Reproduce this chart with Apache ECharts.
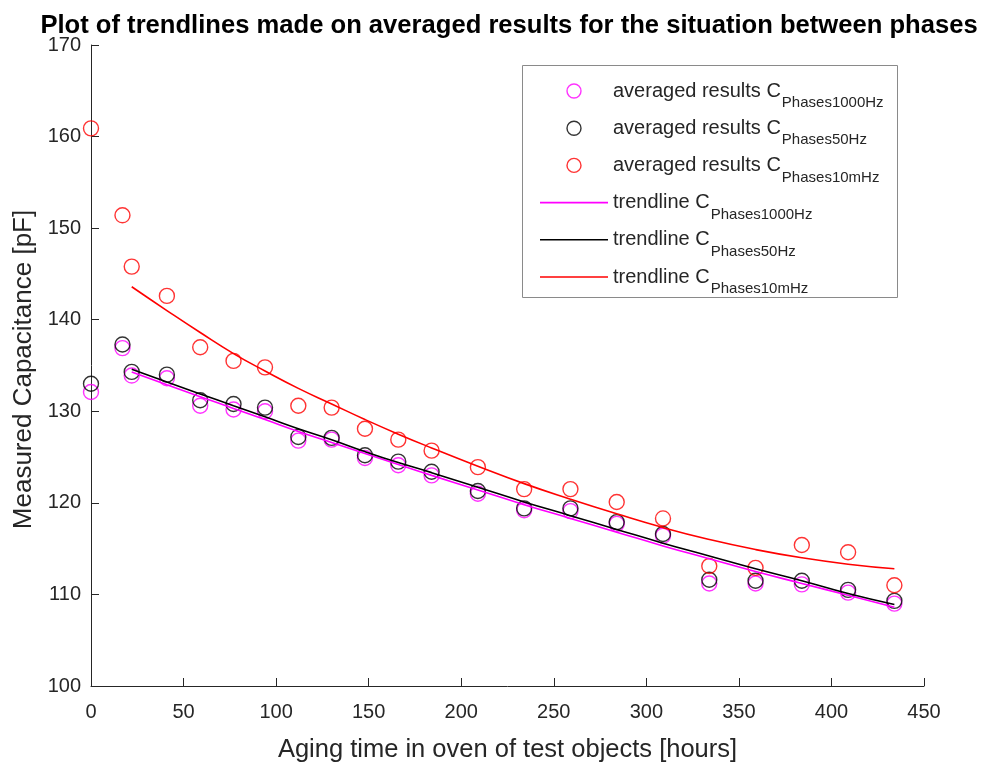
<!DOCTYPE html>
<html>
<head>
<meta charset="utf-8">
<script src="https://cdn.jsdelivr.net/npm/echarts@6/dist/echarts.min.js"></script>
<style>
  html, body { margin: 0; padding: 0; background: #fff; }
  #chart { width: 985px; height: 763px; }
</style>
</head>
<body>
<div id="chart"></div>
<script>
// Aging time of the test objects [hours]
const hours = [0, 17, 22, 41, 59, 77, 94, 112, 130, 148, 166, 184, 209, 234, 259, 284, 309, 334, 359, 384, 409, 434];

// Averaged capacitance measured between phases [pF]
const c1000Hz = [132.1, 136.9, 133.9, 133.6, 130.6, 130.2, 130.0, 126.8, 126.9, 124.9, 124.1, 123.0, 121.0, 119.2, 119.1, 117.7, 116.4, 111.2, 111.2, 111.1, 110.2, 109.0];
const c50Hz   = [133.0, 137.3, 134.3, 134.0, 131.2, 130.8, 130.4, 127.2, 127.1, 125.2, 124.5, 123.4, 121.3, 119.4, 119.4, 117.9, 116.6, 111.6, 111.5, 111.5, 110.5, 109.3];
const c10mHz  = [160.9, 151.4, 145.8, 142.6, 137.0, 135.5, 134.8, 130.6, 130.4, 128.1, 126.9, 125.7, 123.9, 121.5, 121.5, 120.1, 118.3, 113.1, 112.9, 115.4, 114.6, 111.0];

// Trendlines, starting at the third measurement (22 h)
const trendHours = hours.slice(2);
const trend1000Hz = [134.3, 132.9, 131.6, 130.3, 129.1, 127.8, 126.6, 125.4, 124.2, 123.0, 121.4, 119.8, 118.3, 116.8, 115.3, 113.9, 112.5, 111.2, 109.9, 108.6];
const trend50Hz   = [134.6, 133.2, 131.9, 130.6, 129.4, 128.1, 126.9, 125.6, 124.4, 123.3, 121.7, 120.1, 118.6, 117.1, 115.6, 114.2, 112.8, 111.5, 110.1, 108.9];
const trend10mHz  = [143.6, 141.0, 138.6, 136.3, 134.4, 132.5, 130.8, 129.1, 127.5, 126.0, 124.0, 122.1, 120.4, 118.8, 117.3, 116.0, 114.9, 114.0, 113.3, 112.8];

const xTicks = [0, 50, 100, 150, 200, 250, 300, 350, 400, 450];
const yTicks = [100, 110, 120, 130, 140, 150, 160, 170];

const colMagenta = '#ff00ff';
const colBlack = '#000000';
const colRed = '#ff0000';
const textCol = '#262626';
const fontFamily = '"Liberation Sans", Arial, Helvetica, sans-serif';

const pairs = (xs, ys) => xs.map((x, i) => [x, ys[i]]);

const names = {
  s1000: 'averaged results C_1000',
  s50: 'averaged results C_50',
  s10m: 'averaged results C_10m',
  t1000: 'trendline C_1000',
  t50: 'trendline C_50',
  t10m: 'trendline C_10m'
};
const subText = { '1000': 'Phases1000Hz', '50': 'Phases50Hz', '10m': 'Phases10mHz' };

function scatter(name, color, data) {
  return {
    name, type: 'scatter', data,
    symbol: 'circle', symbolSize: 15,
    itemStyle: { color: 'rgba(0,0,0,0)', borderColor: color, borderWidth: 1.4 },
    emphasis: { disabled: true },
    z: 2
  };
}
function trend(name, color, data) {
  return {
    name, type: 'line', data, smooth: true,
    showSymbol: false, symbol: 'none',
    lineStyle: { color, width: 1.6 },
    itemStyle: { color },
    emphasis: { disabled: true },
    z: 3
  };
}

// thin horizontal bar used as the legend sample of a trendline
const lineIcon = 'path://M0,0H68V1.6H0Z';
const ringStyle = c => ({ color: 'rgba(0,0,0,0)', borderColor: c, borderWidth: 1.4 });

const chart = echarts.init(document.getElementById('chart'), null, { renderer: 'canvas' });

const option = {
  animation: false,
  backgroundColor: '#ffffff',
  textStyle: { fontFamily },
  title: {
    text: 'Plot of trendlines made on averaged results for the situation between phases',
    left: 504, top: 8, textAlign: 'center',
    textStyle: { fontFamily, fontSize: 25.6, fontWeight: 'bold', color: '#000' }
  },
  grid: { left: 91, right: 61, top: 45, bottom: 77, containLabel: false, outerBoundsMode: 'none' },
  xAxis: {
    type: 'value', min: 0, max: 450, interval: 50,
    name: 'Aging time in oven of test objects [hours]',
    nameLocation: 'middle', nameGap: 51,
    nameTextStyle: { fontFamily, fontSize: 25.5, color: textCol },
    axisLine: { onZero: false, lineStyle: { color: textCol, width: 1 } },
    axisTick: { inside: true, length: 8, lineStyle: { color: textCol } },
    axisLabel: {
      fontFamily, fontSize: 20, color: textCol, margin: 16,
      formatter: v => (xTicks.includes(v) ? String(v) : '')
    },
    splitLine: { show: false }
  },
  yAxis: {
    type: 'value', min: 100, max: 170, interval: 10,
    name: 'Measured Capacitance [pF]',
    nameLocation: 'middle', nameGap: 51, nameRotate: 90,
    nameTextStyle: { fontFamily, fontSize: 26, color: textCol, padding: [0, 8, 0, 0] },
    axisLine: { show: true, onZero: false, lineStyle: { color: textCol, width: 1 } },
    axisTick: { show: true, inside: true, length: 8, lineStyle: { color: textCol } },
    axisLabel: {
      fontFamily, fontSize: 20, color: textCol, margin: 10,
      formatter: v => (yTicks.includes(v) ? String(v) : '')
    },
    splitLine: { show: false }
  },
  // legend frame
  graphic: [{
    type: 'rect', z: 1,
    shape: { x: 522.5, y: 65.5, width: 375, height: 232 },
    style: { fill: '#ffffff', stroke: '#8a8a8a', lineWidth: 1 }
  }],
  legend: {
    orient: 'vertical',
    left: 522, top: 81,
    padding: [0, 6, 0, 18],
    itemWidth: 68, itemHeight: 14, itemGap: 3.2,
    borderWidth: 0,
    selectedMode: false,
    z: 5,
    data: [
      { name: names.s1000, icon: 'circle', itemStyle: ringStyle(colMagenta) },
      { name: names.s50, icon: 'circle', itemStyle: ringStyle(colBlack) },
      { name: names.s10m, icon: 'circle', itemStyle: ringStyle(colRed) },
      { name: names.t1000, icon: lineIcon, itemStyle: { color: colMagenta, borderWidth: 0 } },
      { name: names.t50, icon: lineIcon, itemStyle: { color: colBlack, borderWidth: 0 } },
      { name: names.t10m, icon: lineIcon, itemStyle: { color: colRed, borderWidth: 0 } }
    ],
    formatter: name => {
      const parts = name.split('_');
      return '{m|' + parts[0] + '}{s|' + subText[parts[1]] + '}';
    },
    textStyle: {
      fontFamily, color: textCol,
      rich: {
        m: { fontFamily, fontSize: 20, color: textCol, lineHeight: 48 },
        s: { fontFamily, fontSize: 15, color: textCol, lineHeight: 24, height: 24, verticalAlign: 'bottom', padding: [0, 0, 0, 1] }
      }
    }
  },
  series: [
    scatter(names.s1000, colMagenta, pairs(hours, c1000Hz)),
    scatter(names.s50, colBlack, pairs(hours, c50Hz)),
    scatter(names.s10m, colRed, pairs(hours, c10mHz)),
    trend(names.t1000, colMagenta, pairs(trendHours, trend1000Hz)),
    trend(names.t50, colBlack, pairs(trendHours, trend50Hz)),
    trend(names.t10m, colRed, pairs(trendHours, trend10mHz))
  ]
};

chart.setOption(option);
</script>
</body>
</html>
